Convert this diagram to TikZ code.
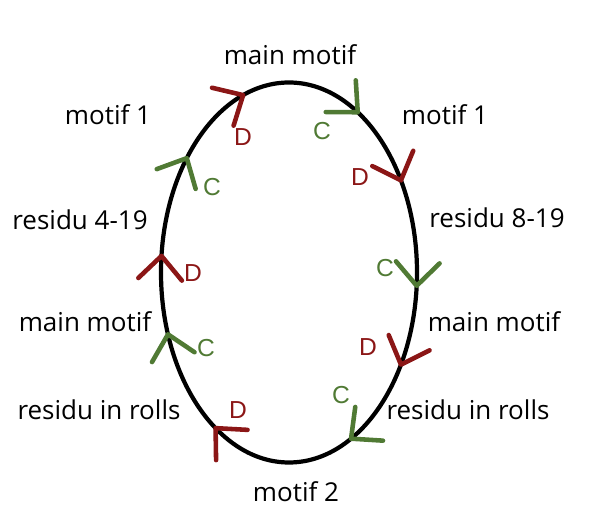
\documentclass[tikz,border=0pt]{standalone}
\usepackage{fontspec}
\setmainfont{Open Sans}
\newfontfamily\tagfont{Liberation Sans}
\usepackage{tikz}
\usetikzlibrary{calc}
\definecolor{chevred}{RGB}{139,22,22}
\definecolor{chevgreen}{RGB}{80,122,52}

\begin{document}
\begin{tikzpicture}[
  x=0.02cm, y=0.02cm,
  loop/.style={draw, line width=2.4pt},
  motif/.style={font=\fontsize{14.8}{17}\selectfont, text=black},
  tag/.style={font=\tagfont\fontsize{14}{16}\selectfont},
  dtag/.style={tag, text=chevred},
  ctag/.style={tag, text=chevgreen},
  chev/.pic={\draw[line width=2.6pt, line cap=round, line join=round] (137:32) -- (0,0) -- (223:32);}
]
\useasboundingbox (0,0) rectangle (600,531);
\coordinate (centre) at (289,258.5);
\draw[loop] (centre) ellipse [x radius=128, y radius=190];

% chevrons along the loop, clockwise
\foreach \t/\col in {111/chevred, 57.5/chevgreen, 29/chevred, -4/chevgreen, -29/chevred,
                     -61/chevgreen, 235/chevred, 199/chevgreen, 175/chevred, 143/chevgreen}
  \pic[\col, rotate={atan2(-190*cos(\t),128*sin(\t))}]
    at ($(centre)+({128*cos(\t)},{190*sin(\t)})$) {chev};

% segment names
\node[motif] (maintop) at (290,476) {main motif};
\node[motif] (motifonel) at (108,416) {motif 1};
\node[motif] (motifoner) at (445,416) {motif 1};
\node[motif] (residul) at (80,311) {residu 4-19};
\node[motif] (residur) at (497,313) {residu 8-19};
\node[motif] (mainl) at (85,209) {main motif};
\node[motif] (mainr) at (494,209) {main motif};
\node[motif] (rollsl) at (99,121) {residu in rolls};
\node[motif] (rollsr) at (468,121) {residu in rolls};
\node[motif] (motiftwo) at (296,39) {motif 2};

% C / D tags
\node[dtag] (d1) at (243,394) {D};
\node[ctag] (c1) at (322,400) {C};
\node[dtag] (d2) at (360,354) {D};
\node[ctag] (c2) at (385,263) {C};
\node[dtag] (d3) at (368,184) {D};
\node[ctag] (c3) at (341,136) {C};
\node[dtag] (d4) at (238,121) {D};
\node[ctag] (c4) at (206,183) {C};
\node[dtag] (d5) at (193,258) {D};
\node[ctag] (c5) at (212,344) {C};
\end{tikzpicture}
\end{document}
